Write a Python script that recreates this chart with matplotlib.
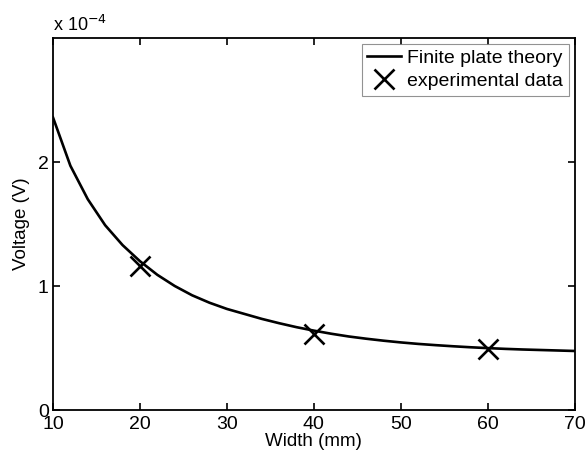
import numpy as np
import matplotlib.pyplot as plt
from matplotlib.ticker import FuncFormatter

plt.rcParams['font.family'] = ['Liberation Sans', 'DejaVu Sans']

# Finite plate theory curve (voltage in units of 1e-4 V)
width_theory = [10, 12, 14, 16, 18, 20, 22, 24, 26, 28, 30, 32, 34, 36, 38, 40,
                42, 44, 46, 48, 50, 52, 54, 56, 58, 60, 62, 64, 66, 68, 70]
volt_theory = [2.36, 1.97, 1.70, 1.49, 1.33, 1.20, 1.09, 1.00, 0.925, 0.865,
               0.815, 0.775, 0.735, 0.70, 0.668, 0.64, 0.615, 0.593, 0.575,
               0.559, 0.545, 0.533, 0.523, 0.514, 0.506, 0.499, 0.493, 0.488,
               0.484, 0.480, 0.476]

# experimental points
width_exp = [20, 40, 60]
volt_exp = [1.16, 0.61, 0.49]

scale = 1e-4
volt_theory = np.array(volt_theory) * scale
volt_exp = np.array(volt_exp) * scale

fig = plt.figure(figsize=(5.86, 4.54), dpi=100)
ax = fig.add_axes([0.0904, 0.0969, 0.8906, 0.8194])

ax.plot(width_theory, volt_theory, color='black', lw=1.9, label='Finite plate theory')
ax.plot(width_exp, volt_exp, 'x', color='black', ms=14, mew=1.9, label='experimental data')

ax.set_xlim(10, 70)
ax.set_ylim(0, 3e-4)
ax.set_xticks([10, 20, 30, 40, 50, 60, 70])
ax.set_yticks([0, 1e-4, 2e-4])
ax.yaxis.set_major_formatter(FuncFormatter(lambda v, p: f'{v / scale:.0f}'))

ax.tick_params(direction='in', length=5, width=1.2, top=True, right=True,
               labelsize=14, pad=4)
ax.tick_params(axis='y', pad=3)
for s in ax.spines.values():
    s.set_linewidth(1.3)

ax.set_xlabel('Width (mm)', fontsize=13.5, labelpad=0)
ax.set_ylabel('Voltage (V)', fontsize=13.5, labelpad=6)
ax.text(0.0, 1.008, r'x 10$^{-4}$', transform=ax.transAxes, fontsize=13,
        ha='left', va='bottom')

leg = ax.legend(loc='upper right', fontsize=14, frameon=True, fancybox=False,
                borderaxespad=0.3, handlelength=1.75, handletextpad=0.3,
                borderpad=0.3, labelspacing=0.25)
leg.get_frame().set_edgecolor('#777777')
leg.get_frame().set_linewidth(0.8)

fig.savefig('out.png', dpi=100)
